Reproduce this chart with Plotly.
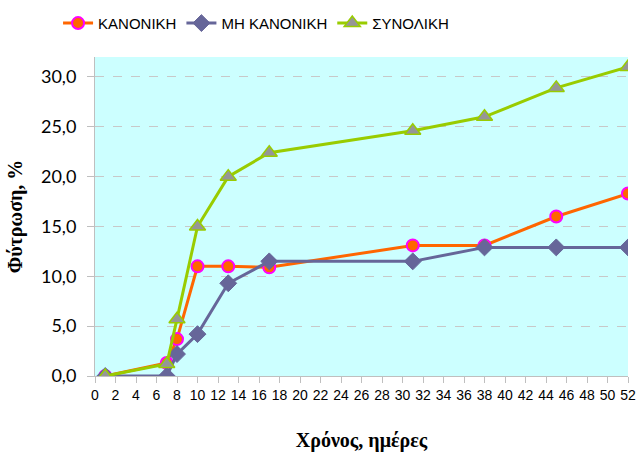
import plotly.graph_objects as go

days = [1, 7, 8, 10, 13, 17, 31, 38, 45, 52]
kanoniki = [0.0, 1.3, 3.7, 11.0, 11.0, 10.9, 13.1, 13.1, 16.0, 18.3]
mi_kanoniki = [0.0, 0.0, 2.2, 4.2, 9.3, 11.5, 11.5, 12.9, 12.9, 12.9]
synoliki = [0.0, 1.2, 5.7, 15.0, 20.0, 22.4, 24.6, 26.0, 28.9, 31.0]
names = ["ΚΑΝΟΝΙΚΗ", "ΜΗ ΚΑΝΟΝΙΚΗ", "ΣΥΝΟΛΙΚΗ"]
x_ticks = list(range(0, 53, 2))
y_ticks = [0, 5, 10, 15, 20, 25, 30]

fig = go.Figure()
fig.add_trace(go.Scatter(
    x=days, y=kanoniki, name=names[0], mode="lines+markers",
    line=dict(color="#FF6600", width=3),
    marker=dict(symbol="circle", size=12, color="#FF6600",
                line=dict(color="#FF00FF", width=2)),
))
fig.add_trace(go.Scatter(
    x=days, y=mi_kanoniki, name=names[1], mode="lines+markers",
    line=dict(color="#666699", width=3),
    marker=dict(symbol="diamond", size=13, color="#666699",
                line=dict(color="#666699", width=1)),
))
fig.add_trace(go.Scatter(
    x=days, y=synoliki, name=names[2], mode="lines+markers",
    line=dict(color="#99CC00", width=3),
    marker=dict(symbol="triangle-up", size=14, color="#969696",
                line=dict(color="#99CC00", width=1.5)),
))

fig.update_layout(
    width=638, height=455,
    margin=dict(l=95, r=10, t=57, b=79, autoexpand=False),
    paper_bgcolor="white", plot_bgcolor="#CCFFFF",
    separators=",.",
    showlegend=True,
    legend=dict(orientation="h", xref="container", yref="container",
                x=0.091, y=0.985, xanchor="left", yanchor="top",
                font=dict(family="Liberation Sans, Arial", size=15, color="black"),
                itemwidth=30, bgcolor="rgba(0,0,0,0)"),
    xaxis=dict(
        range=[0, 52], tickmode="array", tickvals=x_ticks,
        ticktext=[str(v) for v in x_ticks],
        showgrid=False, zeroline=False,
        showline=True, linecolor="#BFBFBF", linewidth=1,
        ticks="outside", ticklen=6, tickcolor="#BFBFBF",
        tickfont=dict(family="Liberation Sans, Arial", size=14, color="black"),
        title=dict(text="<b>Χρόνος, ημέρες</b>", standoff=31,
                   font=dict(family="Liberation Serif, Times New Roman", size=20, color="black")),
    ),
    yaxis=dict(
        range=[0, 32], tickmode="array", tickvals=y_ticks, tickformat=".1f",
        showgrid=True, gridcolor="#C8C8C8", griddash="dash", gridwidth=1,
        zeroline=False,
        showline=True, linecolor="#BFBFBF", linewidth=1,
        ticks="outside", ticklen=7, tickcolor="#BFBFBF",
        ticklabelstandoff=7,
        tickfont=dict(family="Lato, Open Sans, sans-serif", size=18, color="black"),
        title=dict(text="<b>Φύτρωση, %</b>", standoff=12,
                   font=dict(family="Liberation Serif, Times New Roman", size=20, color="black")),
    ),
)

fig.write_html(
    "out.html",
    config={"displayModeBar": False},
    post_script="document.body.style.margin='0';document.body.style.overflow='hidden';",
)
